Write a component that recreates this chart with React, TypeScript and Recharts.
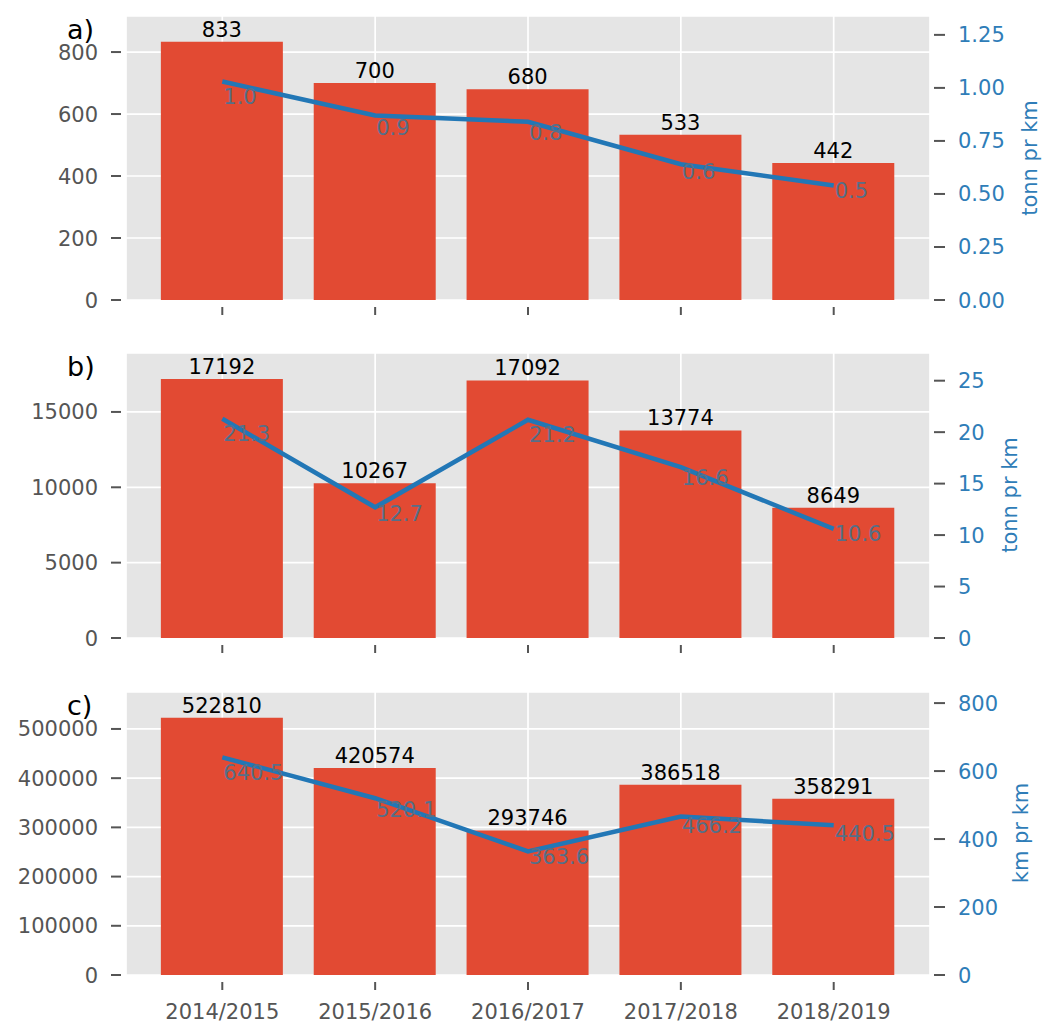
import React from 'react';
import { ComposedChart, Bar, Line, XAxis, YAxis, CartesianGrid, LabelList } from 'recharts';

// ---------- data ----------
const seasons = ['2014/2015', '2015/2016', '2016/2017', '2017/2018', '2018/2019'];
const positions = [0, 1, 2, 3, 4];

const tonnBars = [833, 700, 680, 533, 442];
const tonnPerKm = [1.03, 0.87, 0.84, 0.64, 0.54];
const tonnTicks = [0, 200, 400, 600, 800];
const tonnPerKmTicks = [0, 0.25, 0.5, 0.75, 1.0, 1.25];

const countBars = [17192, 10267, 17092, 13774, 8649];
const countPerKm = [21.3, 12.7, 21.2, 16.6, 10.6];
const countTicks = [0, 5000, 10000, 15000];
const countPerKmTicks = [0, 5, 10, 15, 20, 25];

const kmBars = [522810, 420574, 293746, 386518, 358291];
const kmPerKm = [640.5, 520.1, 363.6, 466.2, 440.5];
const kmTicks = [0, 100000, 200000, 300000, 400000, 500000];
const kmPerKmTicks = [0, 200, 400, 600, 800];

const panelLetters = ['a)', 'b)', 'c)'];
const rightTitles = ['tonn pr km', 'tonn pr km', 'km pr km'];

// ---------- style ----------
const FONT = '"DejaVu Sans", Verdana, sans-serif';
const FS = 21;
const BAR_COLOR = '#E24A33';
const BG = '#E5E5E5';
const LINE_COLOR = '#2277b6';
const RIGHT_TEXT = '#2f7db8';
const TICK_TEXT = '#555555';
const LINE_LABEL = '#566f88';
const W = 1043;

const makeData = (bars: number[], line: number[]) =>
  positions.map((p, i) => ({ pos: p, season: seasons[i], bar: bars[i], line: line[i] }));

const LeftTick = (props: any) => {
  const { x, y, payload } = props;
  return (
    <g>
      <line x1={x - 15} x2={x - 5} y1={y} y2={y} stroke="#555" strokeWidth={2} />
      <text x={x - 28} y={y} dy={7.5} textAnchor="end" fill={TICK_TEXT} fontSize={FS} fontFamily={FONT}>
        {payload.value}
      </text>
    </g>
  );
};

const makeRightTick = (fmt: (v: number) => string) => (props: any) => {
  const { x, y, payload } = props;
  return (
    <g>
      <line x1={x + 4} x2={x + 15} y1={y} y2={y} stroke="#555" strokeWidth={2} />
      <text x={x + 28} y={y} dy={7.5} textAnchor="start" fill={RIGHT_TEXT} fontSize={FS} fontFamily={FONT}>
        {fmt(payload.value)}
      </text>
    </g>
  );
};

const makeXTick = (showLabels: boolean) => (props: any) => {
  const { x, y, payload } = props;
  return (
    <g>
      <line x1={x} x2={x} y1={y + 7} y2={y + 15} stroke="#555" strokeWidth={2} />
      {showLabels && (
        <text x={x} y={y + 44} textAnchor="middle" fill={TICK_TEXT} fontSize={FS} fontFamily={FONT}>
          {seasons[payload.value]}
        </text>
      )}
    </g>
  );
};

const BarLabel = (props: any) => {
  const { x, y, width, value } = props;
  return (
    <text x={x + width / 2} y={y - 5} textAnchor="middle" fill="#000" fontSize={FS} fontFamily={FONT}>
      {value}
    </text>
  );
};

const makeLineLabel = (plotBottom: number) => (props: any) => {
  const { x, y, value } = props;
  const center = plotBottom - 0.9 * (plotBottom - y) - 7;
  return (
    <text x={x + 1} y={center + 7.7} textAnchor="start" fill={LINE_LABEL} fontSize={FS} fontFamily={FONT}>
      {Number(value).toFixed(1)}
    </text>
  );
};

type PanelProps = {
  top: number;
  height: number;
  marginBottom: number;
  bars: number[];
  line: number[];
  leftTicks: number[];
  rightTicks: number[];
  rightFmt: (v: number) => string;
  showXLabels: boolean;
};

const Panel = ({ top, height, marginBottom, bars, line, leftTicks, rightTicks, rightFmt, showXLabels }: PanelProps) => {
  const data = makeData(bars, line);
  const leftMax = Math.max(...bars) * 1.1;
  const rightMax = Math.max(...line) * 1.3;
  const plotBottom = height - marginBottom - 30;
  return (
    <div style={{ position: 'absolute', left: 0, top, width: W, height }}>
      <ComposedChart width={W} height={height} data={data} margin={{ top: 16, right: 13, left: 26, bottom: marginBottom }}>
        <CartesianGrid yAxisId="left" stroke="#ffffff" strokeWidth={1.7} fill={BG} fillOpacity={1} />
        <XAxis
          dataKey="pos"
          type="number"
          domain={[-0.63, 4.63]}
          ticks={positions}
          interval={0}
          allowDataOverflow
          axisLine={false}
          tickLine={false}
          tickSize={0}
          tickMargin={0}
          height={30}
          tick={makeXTick(showXLabels)}
        />
        <YAxis
          yAxisId="left"
          orientation="left"
          width={100}
          domain={[0, leftMax]}
          ticks={leftTicks}
          interval={0}
          allowDataOverflow
          axisLine={false}
          tickLine={false}
          tickSize={0}
          tickMargin={0}
          tick={LeftTick}
        />
        <YAxis
          yAxisId="right"
          orientation="right"
          width={100}
          domain={[0, rightMax]}
          ticks={rightTicks}
          interval={0}
          allowDataOverflow
          axisLine={false}
          tickLine={false}
          tickSize={0}
          tickMargin={0}
          tick={makeRightTick(rightFmt)}
        />
        <Bar yAxisId="left" dataKey="bar" fill={BAR_COLOR} barSize={122} isAnimationActive={false}>
          <LabelList dataKey="bar" content={BarLabel} />
        </Bar>
        <Line
          yAxisId="right"
          dataKey="line"
          type="linear"
          stroke={LINE_COLOR}
          strokeWidth={4.5}
          dot={false}
          activeDot={false}
          isAnimationActive={false}
        >
          <LabelList dataKey="line" content={makeLineLabel(plotBottom)} />
        </Line>
      </ComposedChart>
    </div>
  );
};

const plotTops = [16, 353, 692];
const plotCenters = [158, 495, 833];
const titleX = [1037, 1017, 1028];

export default function App() {
  return (
    <div style={{ position: 'absolute', left: 0, top: 0, width: W, height: 1024, background: '#fff', overflow: 'hidden' }}>
      <Panel
        top={0}
        height={340}
        marginBottom={10}
        bars={tonnBars}
        line={tonnPerKm}
        leftTicks={tonnTicks}
        rightTicks={tonnPerKmTicks}
        rightFmt={(v) => v.toFixed(2)}
        showXLabels={false}
      />
      <Panel
        top={337}
        height={340}
        marginBottom={9}
        bars={countBars}
        line={countPerKm}
        leftTicks={countTicks}
        rightTicks={countPerKmTicks}
        rightFmt={(v) => String(v)}
        showXLabels={false}
      />
      <Panel
        top={676}
        height={348}
        marginBottom={19}
        bars={kmBars}
        line={kmPerKm}
        leftTicks={kmTicks}
        rightTicks={kmPerKmTicks}
        rightFmt={(v) => String(v)}
        showXLabels={true}
      />
      <svg width={W} height={1024} style={{ position: 'absolute', left: 0, top: 0, pointerEvents: 'none' }}>
        {panelLetters.map((t, i) => (
          <text key={t} x={67} y={plotTops[i] + 23} fontSize={27} fontFamily={FONT} fill="#000">
            {t}
          </text>
        ))}
        {rightTitles.map((t, i) => (
          <text
            key={i}
            x={titleX[i]}
            y={plotCenters[i]}
            transform={`rotate(-90 ${titleX[i]} ${plotCenters[i]})`}
            textAnchor="middle"
            fontSize={FS}
            fontFamily={FONT}
            fill={RIGHT_TEXT}
          >
            {t}
          </text>
        ))}
      </svg>
    </div>
  );
}
